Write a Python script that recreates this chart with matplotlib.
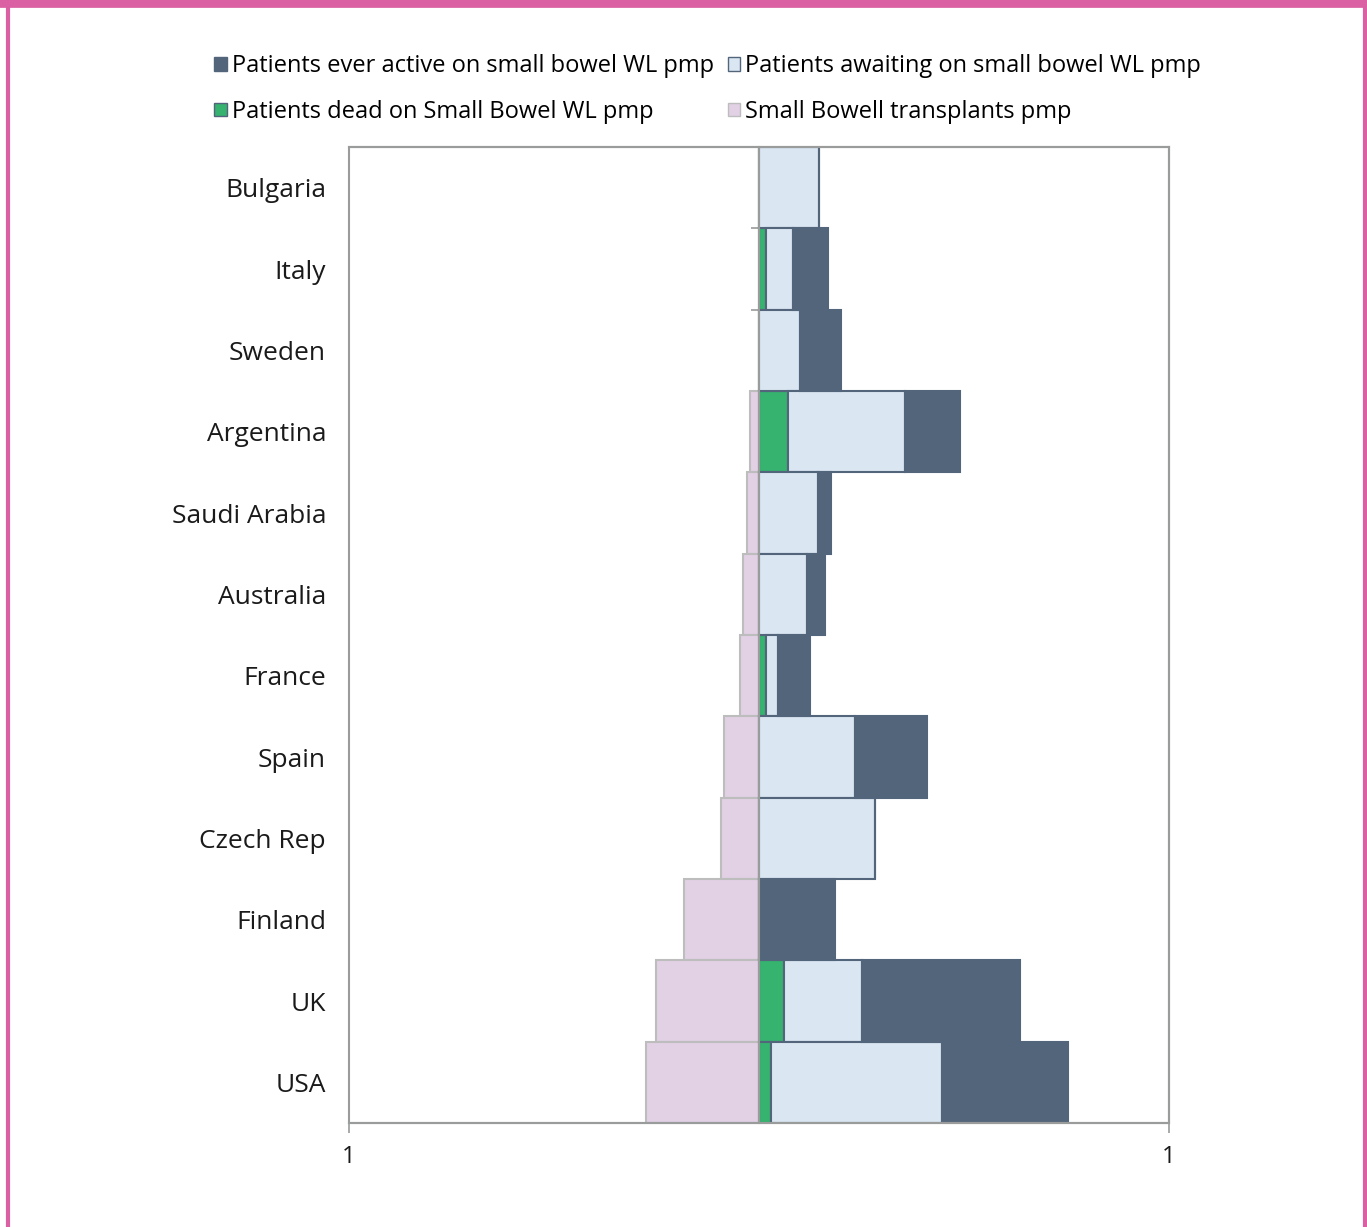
import matplotlib
matplotlib.use("Agg")
import matplotlib.pyplot as plt
from matplotlib.patches import Rectangle
from matplotlib.lines import Line2D
from matplotlib.transforms import blended_transform_factory

countries = ["Bulgaria", "Italy", "Sweden", "Argentina", "Saudi Arabia", "Australia",
             "France", "Spain", "Czech Rep", "Finland", "UK", "USA"]
dead = [0.0, 0.017, 0.0, 0.071, 0.0, 0.0, 0.017, 0.0, 0.0, 0.0, 0.061, 0.029]
awaiting = [0.146, 0.066, 0.100, 0.285, 0.144, 0.117, 0.029, 0.234, 0.283, 0.0, 0.190, 0.417]
ever_active = [0.0, 0.085, 0.100, 0.134, 0.032, 0.044, 0.078, 0.176, 0.0, 0.185, 0.385, 0.307]
transplants = [0.0, 0.0, 0.0, 0.022, 0.029, 0.039, 0.046, 0.085, 0.093, 0.183, 0.251, 0.276]
xtick_vals = [-1, 1]
xtick_labels = ["1", "1"]

labels = ["Patients ever active on small bowel WL pmp",
          "Patients awaiting on small bowel WL pmp",
          "Patients dead on Small Bowel WL pmp",
          "Small Bowell transplants pmp"]

C_DARK = "#53657A"
C_LIGHT = "#DAE6F2"
C_GREEN = "#35B36F"
C_PINK = "#E2D0E5"
C_GRID = "#9A9C9C"
C_BORDER = "#DA5FA3"

plt.rcParams['font.family'] = ['Open Sans', 'DejaVu Sans']

fig = plt.figure(figsize=(13.67, 12.27), dpi=100)
ax = fig.add_axes([349/1367, 1 - 1123/1227, 820/1367, 976/1227])

y = list(range(len(countries)))
ax.barh(y, [-t for t in transplants], height=1.0, color=C_PINK, edgecolor="#BDBDBD", linewidth=1.5, zorder=2)
ax.barh(y, dead, height=1.0, color=C_GREEN, edgecolor=C_DARK, linewidth=1.5, zorder=2)
left2 = dead
ax.barh(y, awaiting, left=left2, height=1.0, color=C_LIGHT, edgecolor=C_DARK, linewidth=1.5, zorder=2)
left3 = [d + a for d, a in zip(dead, awaiting)]
ax.barh(y, ever_active, left=left3, height=1.0, color=C_DARK, edgecolor=C_DARK, linewidth=1.5, zorder=2)

ax.set_xlim(-1, 1)
ax.set_ylim(len(countries) - 0.5, -0.5)

for s in ["top", "right", "bottom"]:
    ax.spines[s].set_color(C_GRID)
    ax.spines[s].set_linewidth(1.5)
ax.spines["left"].set_position(("data", 0))
ax.spines["left"].set_color(C_GRID)
ax.spines["left"].set_linewidth(1.5)
ax.spines["left"].set_zorder(3)
ax.add_patch(Rectangle((0, 0), 1, 1, transform=ax.transAxes, fill=False,
                       edgecolor=C_GRID, linewidth=1.5, zorder=4, clip_on=False))

ax.set_yticks([i + 0.5 for i in range(len(countries) - 1)])
ax.set_yticklabels([])
ax.tick_params(axis="y", length=6, width=1.2, color=C_GRID, direction="out")
ax.set_xticks(xtick_vals)
ax.set_xticklabels(xtick_labels, fontsize=17, color="#1a1a1a")
ax.tick_params(axis="x", length=7, width=1.2, color=C_GRID, pad=9)

tr = blended_transform_factory(ax.transAxes, ax.transData)
for i, c in enumerate(countries):
    ax.text(-0.028, i + 0.04, c, transform=tr, ha="right", va="center", fontsize=19, color="#1a1a1a")

handles = [Rectangle((0, 0), 1, 1, facecolor=C_DARK, edgecolor=C_DARK),
           Rectangle((0, 0), 1, 1, facecolor=C_GREEN, edgecolor=C_DARK),
           Rectangle((0, 0), 1, 1, facecolor=C_LIGHT, edgecolor=C_DARK),
           Rectangle((0, 0), 1, 1, facecolor=C_PINK, edgecolor="#BDBDBD")]
hl = [labels[0], labels[2], labels[1], labels[3]]
fig.legend(handles, hl, ncol=2, loc="upper left", bbox_to_anchor=(193/1367, 1 - 33/1227),
           frameon=False, fontsize=17, handlelength=0.52, handleheight=0.52,
           handletextpad=0.22, columnspacing=0.6, labelspacing=0.92)

fig.add_artist(Line2D([0, 1], [1 - 3/1227, 1 - 3/1227], transform=fig.transFigure, color=C_BORDER, linewidth=7))
fig.add_artist(Line2D([8/1367, 8/1367], [0, 1], transform=fig.transFigure, color=C_BORDER, linewidth=3))
fig.add_artist(Line2D([1365/1367, 1365/1367], [0, 1], transform=fig.transFigure, color=C_BORDER, linewidth=3))

fig.savefig("out.png", dpi=100)
